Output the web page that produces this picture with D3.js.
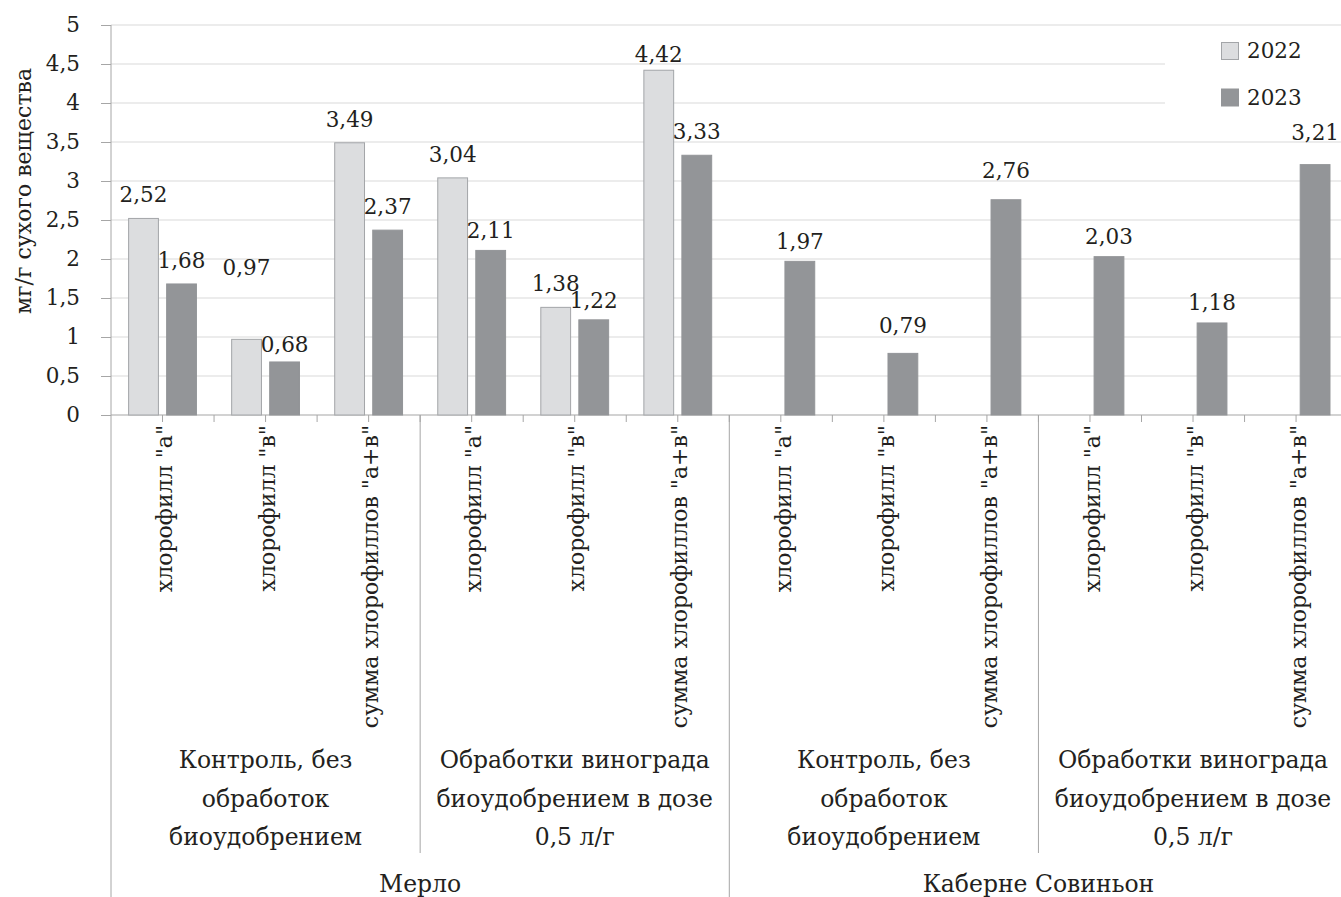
<!DOCTYPE html>
<html lang="ru">
<head>
<meta charset="utf-8">
<script src="https://cdn.jsdelivr.net/npm/d3@7"></script>
<style>
  html, body { margin: 0; padding: 0; background: #fff; }
  svg { display: block; }
</style>
</head>
<body>
<svg id="chart" width="1341" height="897"></svg>
<script>
// Chlorophyll content, mg per g of dry matter
const categories = [
  'хлорофилл "а"', 'хлорофилл "в"', 'сумма хлорофиллов "а+в"',
  'хлорофилл "а"', 'хлорофилл "в"', 'сумма хлорофиллов "а+в"',
  'хлорофилл "а"', 'хлорофилл "в"', 'сумма хлорофиллов "а+в"',
  'хлорофилл "а"', 'хлорофилл "в"', 'сумма хлорофиллов "а+в"'
];
const treatments = [
  ["Контроль, без", "обработок", "биоудобрением"],
  ["Обработки винограда", "биоудобрением в дозе", "0,5 л/г"],
  ["Контроль, без", "обработок", "биоудобрением"],
  ["Обработки винограда", "биоудобрением в дозе", "0,5 л/г"]
];
const varieties = ["Мерло", "Каберне Совиньон"];
const seriesNames = ["2022", "2023"];
const values2022 = [2.52, 0.97, 3.49, 3.04, 1.38, 4.42, null, null, null, null, null, null];
const values2023 = [1.68, 0.68, 2.37, 2.11, 1.22, 3.33, 1.97, 0.79, 2.76, 2.03, 1.18, 3.21];
const yTicks = [0, 0.5, 1, 1.5, 2, 2.5, 3, 3.5, 4, 4.5, 5];
const yTitle = "мг/г сухого вещества";

// layout
const left = 111, axisY = 415, topY = 25, catStep = 103.05;
const FONT = '"DejaVu Serif", "Liberation Serif", serif';
const fsNum = 21.5, fsRot = 22, fsGroup = 23.5;
const colors = { "2022": "#dcdddf", "2023": "#939598" };
const strokes = { "2022": "#a3a5a8", "2023": "#939598" };
const gridColor = "#e6e6e6", axisColor = "#a6a6a6", ink = "#231f20";
// extra lift of individual value labels above the default position, px
const labelLift = { "2022": [0, 48, 0, 0, 0, 0], "2023": [0, -6, 0, -4, -4, 0, -4, 4, 6, -3, -3, 9] };

const svg = d3.select("#chart").style("font-family", FONT);

const x = d3.scaleBand()
  .domain(d3.range(categories.length))
  .range([left, left + catStep * categories.length])
  .padding(0);
const x1 = d3.scaleBand()
  .domain(seriesNames)
  .range([0, x.bandwidth()])
  .paddingInner(0.19)
  .paddingOuter(0.45);
const y = d3.scaleLinear().domain([0, 5]).range([axisY, topY]);

const comma = d3.formatLocale({ decimal: ",", thousands: " ", grouping: [3], currency: ["", ""] });
const fmt2 = comma.format(".2f");
const fmtTick = v => String(v).replace(".", ",");

const styleText = (sel, size) => sel.style("font-family", FONT).style("font-size", size + "px").style("fill", ink);

// gridlines
svg.append("g").selectAll("line").data(yTicks.filter(v => v > 0)).join("line")
  .attr("x1", left).attr("x2", 1341)
  .attr("y1", d => y(d)).attr("y2", d => y(d))
  .attr("stroke", gridColor).attr("stroke-width", 1.5);

// y axis
const yAxis = d3.axisLeft(y).tickValues(yTicks).tickFormat(fmtTick).tickSize(10).tickPadding(21);
const gy = svg.append("g").attr("transform", `translate(${left},0)`).call(yAxis);
gy.select(".domain").remove();
gy.attr("font-family", null).attr("font-size", null);
gy.selectAll(".tick line").attr("stroke", axisColor);
gy.selectAll(".tick text").call(styleText, fsNum);

// axis lines
svg.append("line").attr("x1", left).attr("x2", left).attr("y1", topY).attr("y2", 897)
  .attr("stroke", axisColor).attr("stroke-width", 1);
svg.append("line").attr("x1", left).attr("x2", 1341).attr("y1", axisY).attr("y2", axisY)
  .attr("stroke", axisColor).attr("stroke-width", 1.2);

// short ticks at category boundaries and centres
const tickXs = [];
categories.forEach((c, i) => { tickXs.push(x(i) + x.bandwidth() / 2); if (i > 0) tickXs.push(x(i)); });
svg.append("g").selectAll("line").data(tickXs).join("line")
  .attr("x1", d => d).attr("x2", d => d).attr("y1", axisY).attr("y2", axisY + 7)
  .attr("stroke", axisColor);

// treatment separators (within a variety) and variety separators
treatments.forEach((t, k) => {
  if (k === 0) return;
  const xs = x(k * 3);
  const isVariety = k % 2 === 0;
  svg.append("line").attr("x1", xs).attr("x2", xs)
    .attr("y1", axisY).attr("y2", isVariety ? 897 : 853)
    .attr("stroke", axisColor).attr("stroke-width", 1);
});

// bars
const rows = categories.map((c, i) => ({ i, "2022": values2022[i], "2023": values2023[i] }));
const barData = [];
rows.forEach(r => seriesNames.forEach(s => { if (r[s] != null) barData.push({ i: r.i, s, v: r[s] }); }));

svg.append("g").selectAll("rect").data(barData).join("rect")
  .attr("x", d => x(d.i) + x1(d.s) + 0.5)
  .attr("y", d => y(d.v))
  .attr("width", x1.bandwidth() - 1)
  .attr("height", d => y(0) - y(d.v))
  .attr("fill", d => colors[d.s])
  .attr("stroke", d => strokes[d.s])
  .attr("stroke-width", 1);

// value labels
svg.append("g").selectAll("text").data(barData).join("text")
  .attr("x", d => x(d.i) + x1(d.s) + x1.bandwidth() / 2)
  .attr("y", d => Math.max(y(d.v) - 16, 62) - (labelLift[d.s][d.i] || 0))
  .attr("text-anchor", "middle")
  .call(styleText, fsNum)
  .text(d => fmt2(d.v));

// category labels (rotated)
svg.append("g").selectAll("text").data(categories).join("text")
  .attr("transform", (d, i) => `translate(${x(i) + x.bandwidth() / 2 + 2},425) rotate(-90)`)
  .attr("text-anchor", "end")
  .attr("dy", "0.35em")
  .call(styleText, fsRot)
  .text(d => d);

// treatment labels
treatments.forEach((lines, k) => {
  const cx = x(k * 3) + catStep * 1.5;
  svg.append("text")
    .attr("x", cx).attr("y", 768)
    .attr("text-anchor", "middle").call(styleText, fsGroup)
    .selectAll("tspan").data(lines).join("tspan")
    .attr("x", cx).attr("dy", (d, j) => j === 0 ? 0 : 38.5)
    .text(d => d);
});

// variety labels
varieties.forEach((v, k) => {
  svg.append("text")
    .attr("x", x(k * 6) + catStep * 3).attr("y", 892)
    .attr("text-anchor", "middle").call(styleText, fsGroup)
    .text(v);
});

// y axis title
svg.append("text")
  .attr("transform", `translate(23,191) rotate(-90)`)
  .attr("text-anchor", "middle").attr("dy", "0.35em")
  .call(styleText, fsRot)
  .text(yTitle);

// legend
const lg = svg.append("g");
lg.append("rect").attr("x", 1165).attr("y", 32).attr("width", 180).attr("height", 86).attr("fill", "#fff");
seriesNames.forEach((s, k) => {
  const yy = 42 + k * 46.5;
  lg.append("rect").attr("x", 1221.5).attr("y", yy + 0.5).attr("width", 17).attr("height", 17)
    .attr("fill", colors[s]).attr("stroke", strokes[s]);
  lg.append("text").attr("x", 1247).attr("y", yy + 16).call(styleText, fsNum).text(s);
});
</script>
</body>
</html>
